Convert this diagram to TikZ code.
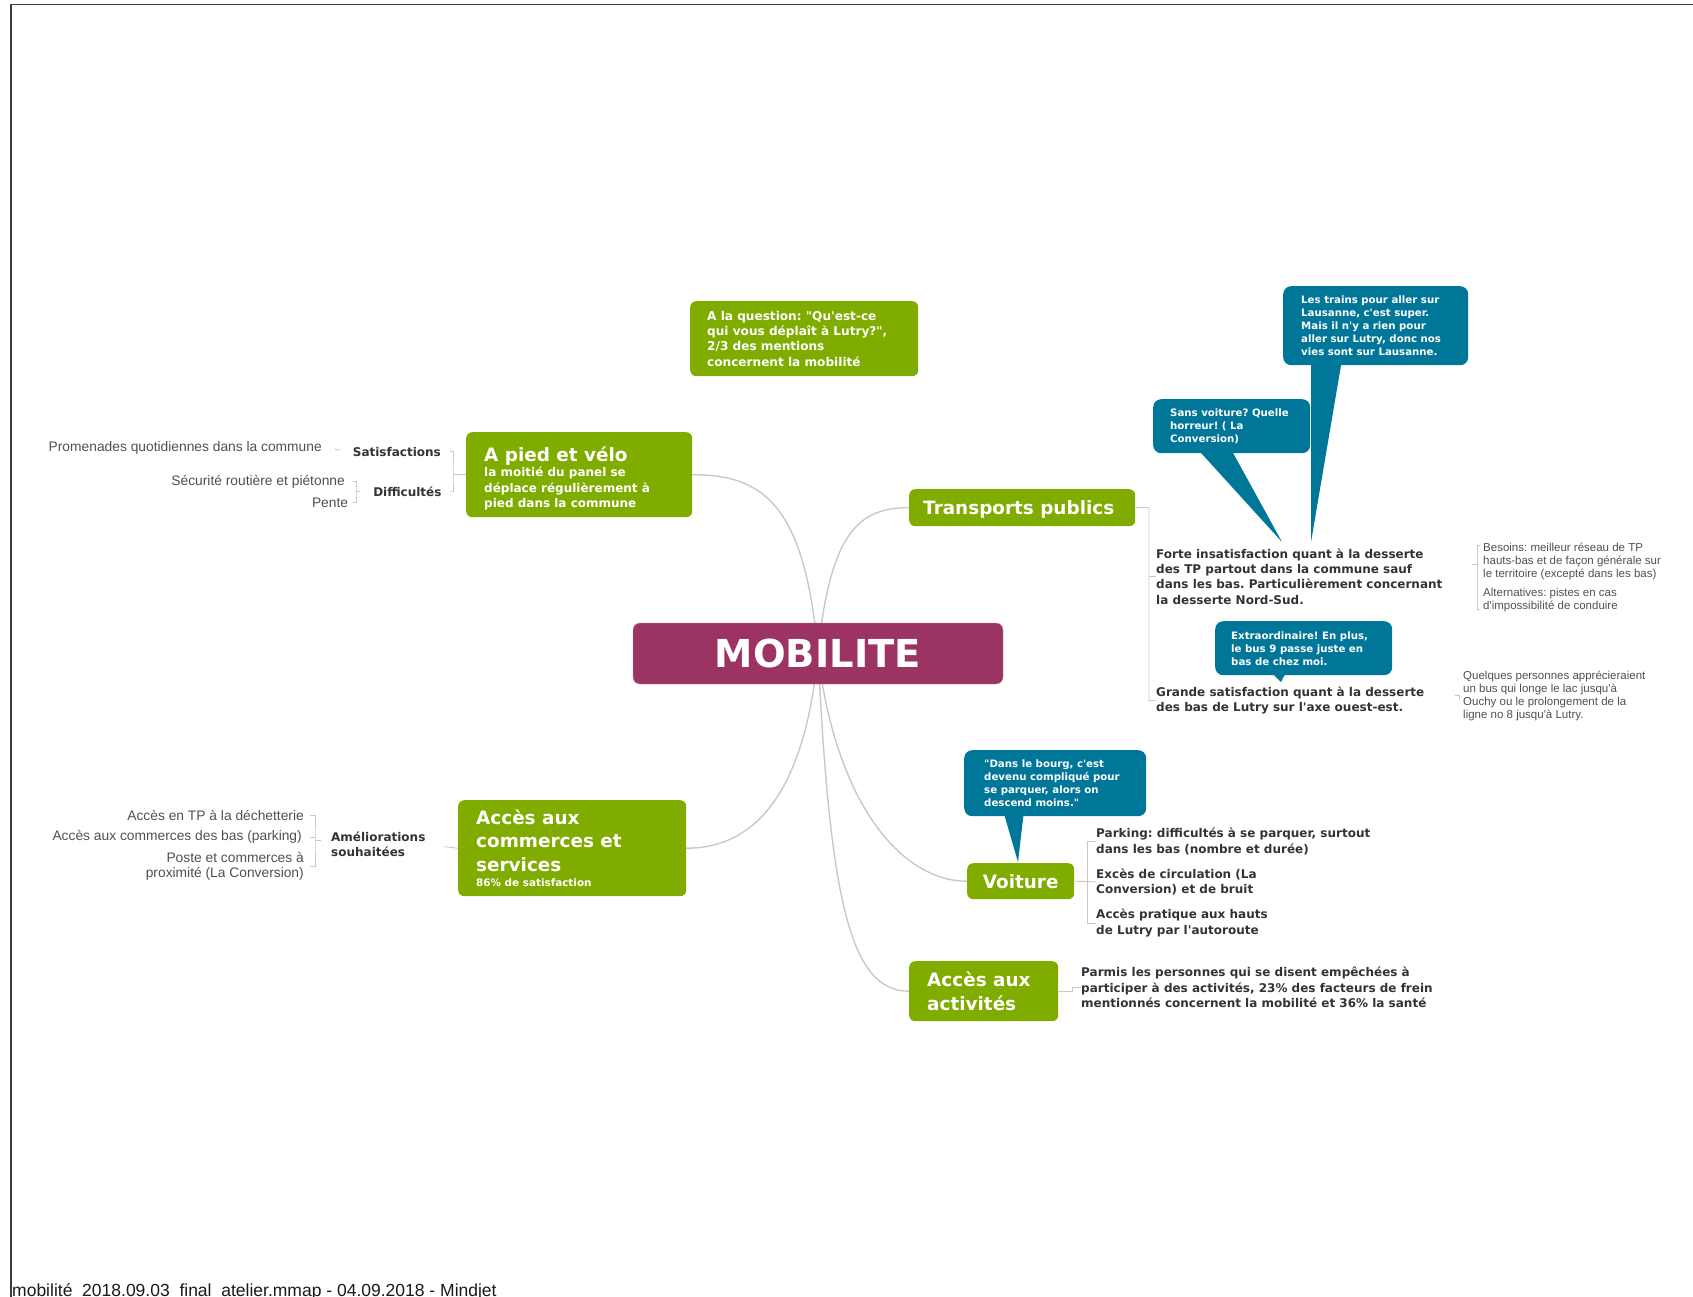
\documentclass[tikz,border=0pt]{standalone}
\usepackage{fontspec}
\setmainfont{DejaVu Sans}[Ligatures=TeXOff]
\newfontfamily\grayfont{Liberation Sans}[Ligatures=TeXOff]
\usetikzlibrary{positioning,calc,backgrounds}
\setlength{\parindent}{0pt}
\frenchspacing
\definecolor{mapgreen}{RGB}{128,172,0}
\definecolor{mapplum}{RGB}{155,51,99}
\definecolor{mapblue}{RGB}{0,118,153}
\definecolor{darktext}{RGB}{51,51,51}
\definecolor{graytext}{RGB}{80,80,80}
\definecolor{branchgray}{RGB}{200,200,200}
\definecolor{framegray}{RGB}{60,60,60}

\begin{document}
\begin{tikzpicture}[x=1pt, y=-1pt,
	root/.style = {fill=mapplum, draw=mapplum!60!white, rounded corners=7pt, text=white, font=\bfseries\fontsize{38.5}{44}\selectfont, minimum width=370pt, minimum height=61pt},
	topic/.style = {fill=mapgreen, rounded corners=6pt, text=white, font=\bfseries\fontsize{18.4}{23.5}\selectfont, align=flush left, anchor=north west, inner ysep=3pt},
	quote/.style = {fill=mapblue, rounded corners=8pt, text=white, font=\bfseries\fontsize{10.2}{13}\selectfont, align=flush left, anchor=north west, inner ysep=3pt},
	sub/.style = {text=darktext, font=\bfseries\fontsize{12}{15.3}\selectfont, align=flush left, inner sep=0pt},
	leaf/.style = {text=graytext, font=\grayfont\fontsize{13.8}{15}\selectfont, inner sep=0pt, anchor=east},
	note/.style = {text=graytext, font=\grayfont\fontsize{11.5}{13}\selectfont, align=flush left, inner sep=0pt, anchor=west},
	branch/.style = {draw=branchgray, line width=1.4pt},
	twig/.style = {draw=branchgray, line width=0.9pt}]
		\useasboundingbox (0,0) rectangle (1693,1297);
		% Frame and footer
		\draw[framegray, line width=1.5pt] (11,1297) -- (11,4.5) -- (1693,4.5);
		\node[anchor=base west, inner sep=0pt, text=black!90, font=\grayfont\fontsize{17.5}{20}\selectfont] (foot) at (12,1296) {mobilité\_2018.09.03\_final\_atelier.mmap - 04.09.2018 - Mindjet};
		%% NODES
		% Centre
		\node[root] (mob) at (818,653.5) {MOBILITE};
		% Floating topic
		\node[topic, font=\bfseries\fontsize{12.1}{15.4}\selectfont, minimum width=228pt, minimum height=75pt, inner xsep=17pt, text width=194pt] (question) at (690,301) {A la question: "Qu'est-ce\\ qui vous déplaît à Lutry?",\\ 2/3 des mentions\\ concernent la mobilité};
		% Left topics
		\node[topic, minimum width=226pt, minimum height=85pt, inner xsep=18pt, text width=190pt] (pied) at (466,432) {A pied et vélo\par{\fontsize{12}{15.5}\selectfont la moitié du panel se\\ déplace régulièrement à\\ pied dans la commune\par}\vspace{-7pt}};
		\node[topic, minimum width=228pt, minimum height=96pt, inner xsep=18pt, text width=192pt] (comm) at (458,800) {Accès aux\\ commerces et\\ services\par{\fontsize{10.4}{15}\selectfont 86\% de satisfaction\par}};
		% Right topics
		\node[topic, minimum width=226pt, minimum height=37pt, inner xsep=14pt, text width=198pt] (trans) at (909,489) {Transports publics\par\vspace{-5pt}};
		\node[topic, align=center, minimum width=107pt, minimum height=36pt] (voit) at (967,863) {Voiture};
		\node[topic, minimum width=149pt, minimum height=60pt, inner xsep=18pt, text width=113pt] (act) at (909,961) {Accès aux\\ activités};
		% Quotes
		\node[quote, minimum width=185pt, minimum height=79pt, inner xsep=18pt, text width=149pt] (trains) at (1283,286) {Les trains pour aller sur\\ Lausanne, c'est super.\\ Mais il n'y a rien pour\\ aller sur Lutry, donc nos\\ vies sont sur Lausanne.};
		\node[quote, minimum width=157pt, minimum height=54pt, inner xsep=17pt, text width=123pt] (sansv) at (1153,399) {Sans voiture? Quelle\\ horreur! ( La\\ Conversion)};
		\node[quote, minimum width=177pt, minimum height=54pt, inner xsep=16pt, text width=145pt] (extra) at (1215,621) {Extraordinaire! En plus,\\ le bus 9 passe juste en\\ bas de chez moi.};
		\node[quote, minimum width=182pt, minimum height=66pt, inner xsep=20pt, text width=142pt] (bourg) at (964,750) {"Dans le bourg, c'est\\ devenu compliqué pour\\ se parquer, alors on\\ descend moins."};
		% Transports publics
		\node[sub, anchor=west] (forte) at (1156,576.5) {Forte insatisfaction quant à la desserte\\ des TP partout dans la commune sauf\\ dans les bas. Particulièrement concernant\\ la desserte Nord-Sud.};
		\node[sub, anchor=west] (grande) at (1156,700.5) {Grande satisfaction quant à la desserte\\ des bas de Lutry sur l'axe ouest-est.};
		\node[note] (besoins) at (1483,561) {Besoins: meilleur réseau de TP\\ hauts-bas et de façon générale sur\\ le territoire (excepté dans les bas)};
		\node[note] (altern) at (1483,600.5) {Alternatives: pistes en cas\\ d'impossibilité de conduire};
		\node[note] (quelq) at (1463,695.5) {Quelques personnes apprécieraient\\ un bus qui longe le lac jusqu'à\\ Ouchy ou le prolongement de la\\ ligne no 8 jusqu'à Lutry.};
		% Voiture
		\node[sub, anchor=west] (parking) at (1096,841.5) {Parking: difficultés à se parquer, surtout\\ dans les bas (nombre et durée)};
		\node[sub, anchor=west] (exces) at (1096,882) {Excès de circulation (La\\ Conversion) et de bruit};
		\node[sub, anchor=west] (acces) at (1096,923) {Accès pratique aux hauts\\ de Lutry par l'autoroute};
		% Acces aux activites
		\node[sub, anchor=west] (parmi) at (1081,987.5) {Parmis les personnes qui se disent empêchées à\\ participer à des activités, 23\% des facteurs de frein\\ mentionnés concernent la mobilité et 36\% la santé};
		% A pied et velo
		\node[sub, anchor=east] (satis) at (441,451.7) {Satisfactions};
		\node[sub, anchor=east] (diffi) at (441.7,491.7) {Difficultés};
		\node[leaf] (prom) at (322,447.5) {Promenades quotidiennes dans la commune};
		\node[leaf] (secu) at (345,481.7) {Sécurité routière et piétonne};
		\node[leaf] (pente) at (348.3,502.7) {Pente};
		% Commerces
		\node[sub, anchor=west] (amel) at (331,844.5) {Améliorations\\ souhaitées};
		\node[leaf] (dechet) at (304,815) {Accès en TP à la déchetterie};
		\node[leaf] (combas) at (302,837) {Accès aux commerces des bas (parking)};
		\node[leaf, align=right] (poste) at (304,866.5) {Poste et commerces à\\ proximité (La Conversion)};
		%% POINTERS
		\coordinate (tip1) at (1311,542);
		\coordinate (tip2) at (1282,542);
		\coordinate (tip3) at (1281,682);
		\coordinate (tip4) at (1018,862);
		\fill[mapblue] ($(trains.south west)+(28,-6)$) -- ($(trains.south west)+(59,-6)$) -- (tip1) -- cycle;
		\fill[mapblue] ($(sansv.south west)+(43,-6)$) -- ($(sansv.south west)+(77,-6)$) -- (tip2) -- cycle;
		\fill[mapblue] ($(extra.south west)+(54,-5)$) -- ($(extra.south west)+(72,-5)$) -- (tip3) -- cycle;
		\fill[mapblue] ($(bourg.south west)+(39,-6)$) -- ($(bourg.south west)+(60,-6)$) -- (tip4) -- cycle;
		%% EDGES
		% Main branches
		\begin{scope}[on background layer]
			\draw[branch] (mob.center) .. controls +(-13,-150) and +(70,0) .. (pied.east);
			\draw[branch] (mob.center) .. controls +(12,-123) and +(-49,0) .. (trans.west);
			\draw[branch] (mob.center) .. controls +(-13,137) and +(70,0) .. (comm.east);
			\draw[branch] (mob.center) .. controls +(17,147) and +(-67,0) .. (voit.west);
			\draw[branch] (mob.center) .. controls +(12,247) and +(-59,0) .. (act.west);
		\end{scope}
		% Transports publics
		\coordinate (tpb) at (1149,507.5);
		\draw[twig] (trans.east) -- (tpb) |- (grande.west);
		\draw[twig] (tpb |- forte.west) -- (forte.west);
		\coordinate (fb) at (1477,564);
		\draw[twig] ($(fb)+(-5,0)$) -- (fb);
		\draw[twig] ([xshift=-3pt,yshift=-3pt]besoins.north west) -| (fb) |- ([xshift=-3pt,yshift=3pt]altern.south west);
		\draw[twig] ([xshift=-8pt]quelq.west) -- ([xshift=-4pt]quelq.west) -- ([xshift=-4pt,yshift=-4pt]quelq.west);
		% Voiture
		\coordinate (vb) at (1087,881.5);
		\draw[twig] (voit.east) -- (vb);
		\draw[twig] (parking.west) -| (vb) |- (acces.west);
		\draw[twig] (vb) -- (exces.west);
		% Acces aux activites
		\draw[twig] (act.east) -- ++(14,0) |- (parmi.west);
		% A pied et velo
		\coordinate (pb) at (453,474.5);
		\draw[twig] (pied.west) -- (pb);
		\draw[twig, shorten <=9pt, shorten >=9pt] (satis.east) -| (pb) |- (diffi.east);
		\draw[twig, shorten <=13pt, shorten >=13pt] (prom.east) -- (satis.west);
		\coordinate (db) at (356,491.7);
		\draw[twig, shorten >=13pt] (db) -- (diffi.west);
		\draw[twig, shorten <=8pt, shorten >=5pt] (secu.east) -| (db) |- (pente.east);
		% Commerces
		\draw[twig, shorten >=19pt] (comm.west) -- (amel.east);
		\coordinate (ab) at (315,840);
		\draw[twig, shorten >=10pt] (ab) -- (ab -| amel.west);
		\draw[twig, shorten <=6pt, shorten >=6pt] (dechet.east) -| (ab) |- (poste.east);
		\draw[twig, shorten <=8pt] (combas.east) -- (ab |- combas.east);
	\end{tikzpicture}
\end{document}
